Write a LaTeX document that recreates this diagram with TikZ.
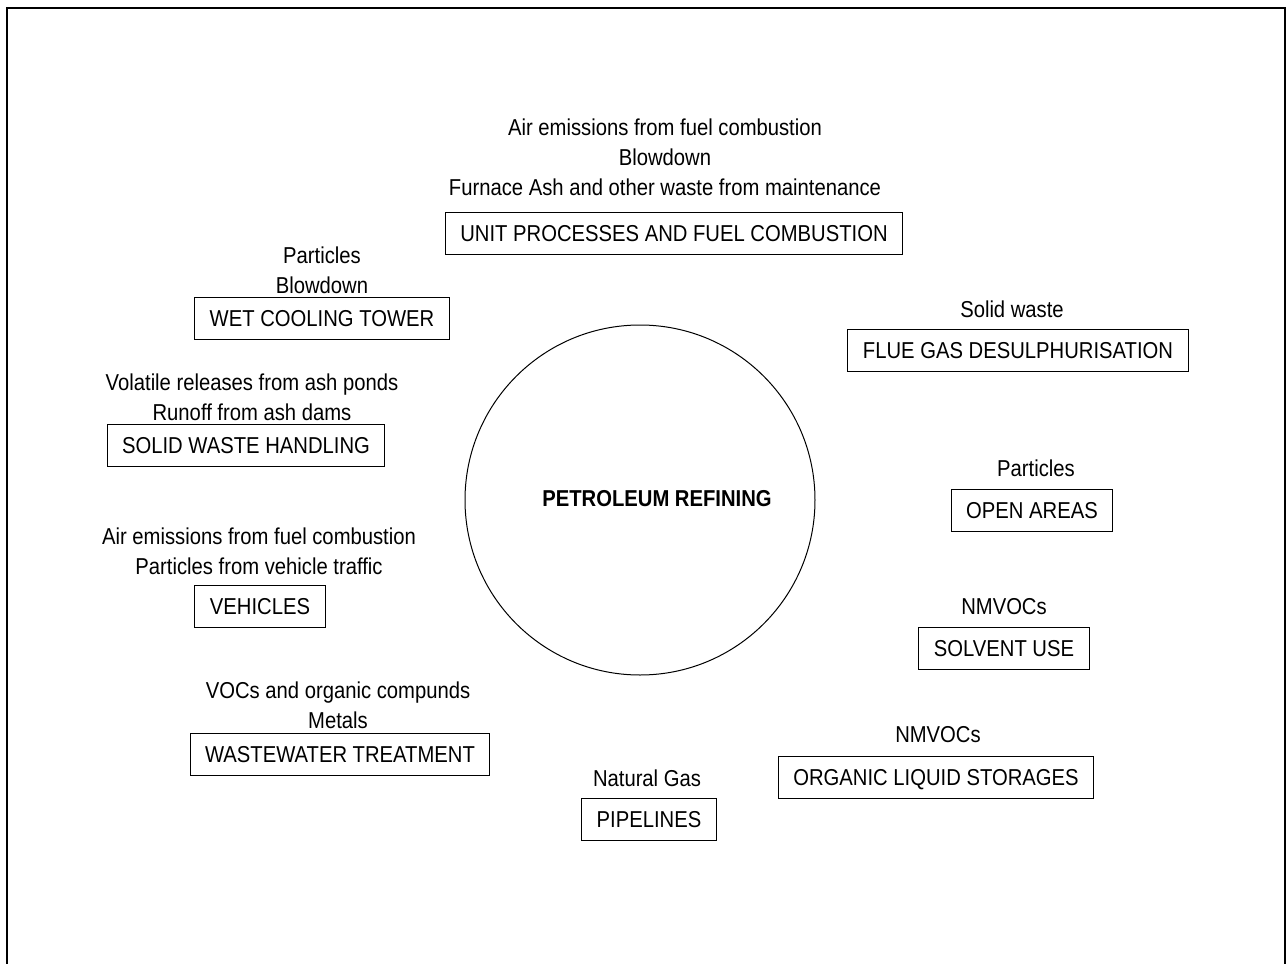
\documentclass[tikz,border=0pt]{standalone}
\usepackage{fontspec}
\setmainfont[FakeStretch=0.88]{Liberation Sans}
\begin{document}
\begin{tikzpicture}[x=0.5pt, y=-0.5pt,
	every node/.style = {font=\fontsize{11.5}{15}\selectfont},
	box/.style = {draw, line width=0.5pt, inner xsep=7.5pt, minimum height=21pt, text height=8.3pt, text depth=0pt},
	lbl/.style = {align=center, inner sep=0pt}]
		\useasboundingbox (0,0) rectangle (1287,964);
		%Frame
		\draw[line width=1.2pt] (7,964) -- (7,8) -- (1285,8) -- (1285,964);
		% Centre
		\node[draw, circle, minimum size=175pt, line width=0.5pt] (core) at (640,500) {};
		\node[font=\fontsize{11.5}{15}\selectfont\bfseries] (coretext) at (657,499) {PETROLEUM REFINING};
		% Sources
		\node[box] (unit) at (674,233) {UNIT PROCESSES AND FUEL COMBUSTION};
		\node[box] (wet) at (322,318) {WET COOLING TOWER};
		\node[box] (flue) at (1018,350) {FLUE GAS DESULPHURISATION};
		\node[box] (solid) at (246,445) {SOLID WASTE HANDLING};
		\node[box] (open) at (1032,510) {OPEN AREAS};
		\node[box] (vehicles) at (260,606) {VEHICLES};
		\node[box] (solvent) at (1004,648) {SOLVENT USE};
		\node[box] (waste) at (340,754) {WASTEWATER TREATMENT};
		\node[box] (organic) at (936,777) {ORGANIC LIQUID STORAGES};
		\node[box] (pipe) at (649,819) {PIPELINES};
		% Releases
		\node[lbl] (unitout) at (665,157) {Air emissions from fuel combustion\\ Blowdown\\ Furnace Ash and other waste from maintenance};
		\node[lbl] (wetout) at (322,270) {Particles\\ Blowdown};
		\node[lbl] (flueout) at (1012,309) {Solid waste};
		\node[lbl] (solidout) at (252,397) {Volatile releases from ash ponds\\ Runoff from ash dams};
		\node[lbl] (openout) at (1036,468) {Particles};
		\node[lbl] (vehiclesout) at (259,551) {Air emissions from fuel combustion\\ Particles from vehicle traffic};
		\node[lbl] (solventout) at (1004,607) {NMVOCs};
		\node[lbl] (wasteout) at (338,705) {VOCs and organic compunds\\ Metals};
		\node[lbl] (organicout) at (938,735) {NMVOCs};
		\node[lbl] (pipeout) at (647,778) {Natural Gas};
\end{tikzpicture}
\end{document}
